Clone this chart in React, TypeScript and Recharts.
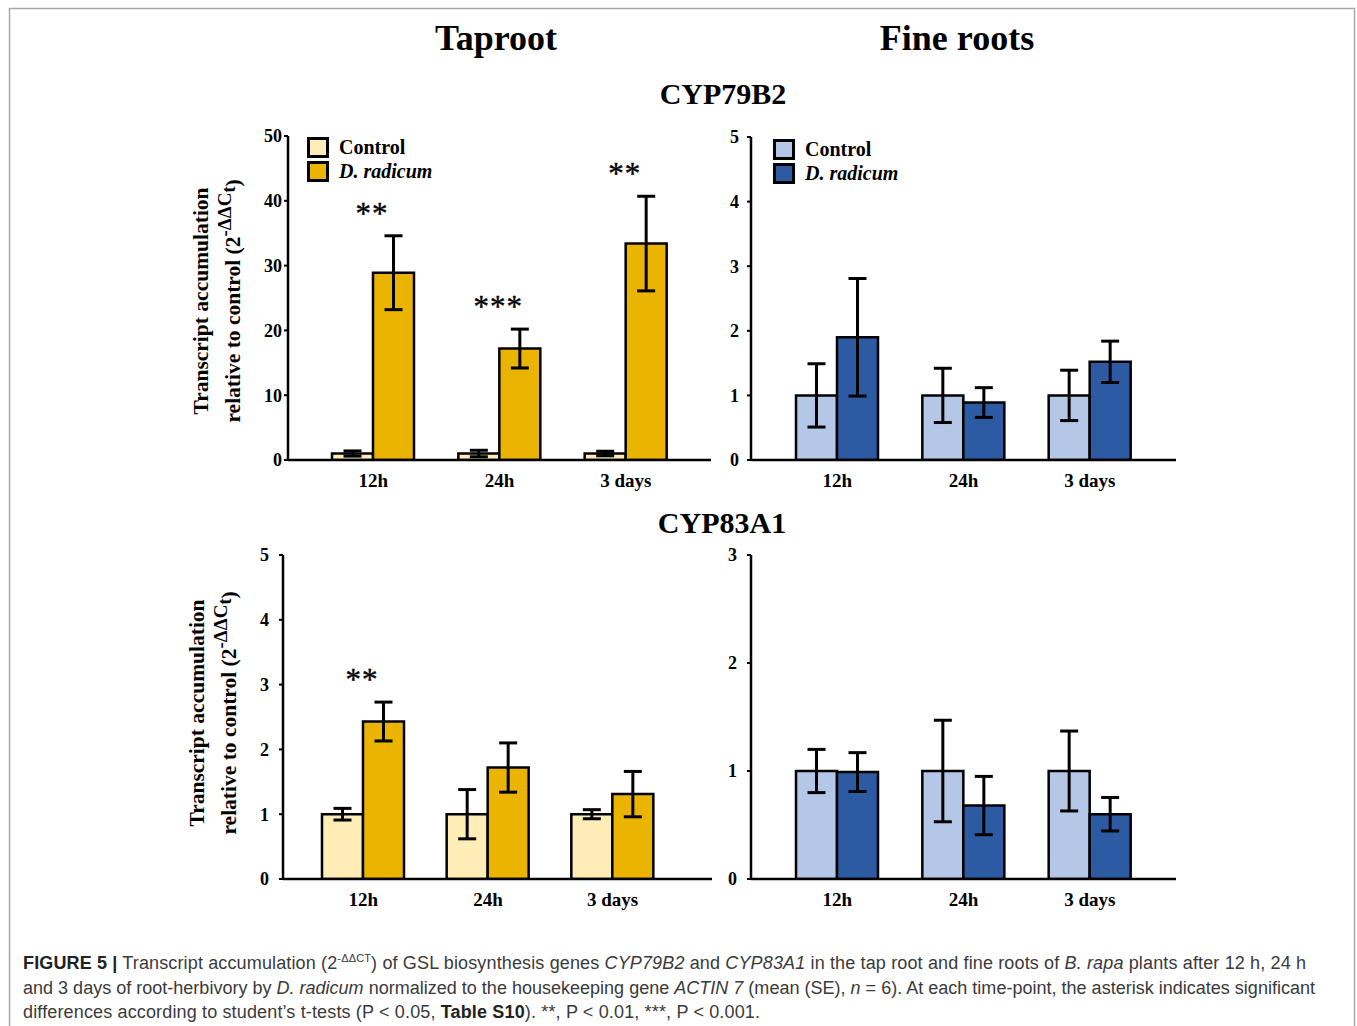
import { BarChart, Bar, XAxis, YAxis, ErrorBar, LabelList, Legend } from "recharts";

const SERIF = '"Liberation Serif", "Times New Roman", serif';
const SANS = '"Liberation Sans", Arial, sans-serif';

// categories
const timePoints = ["12h", "24h", "3 days"];

// CYP79B2 - taproot
const tap79Ctrl = [1, 1, 1];
const tap79CtrlErr = [0.4, 0.5, 0.35];
const tap79Rad = [28.9, 17.2, 33.4];
const tap79RadErr = [5.7, 3.0, 7.3];
const tap79Sig = ["**", "***", "**"];

// CYP79B2 - fine roots
const fine79Ctrl = [1, 1, 1];
const fine79CtrlErr = [0.49, 0.42, 0.39];
const fine79Rad = [1.9, 0.89, 1.52];
const fine79RadErr = [0.91, 0.23, 0.32];

// CYP83A1 - taproot
const tap83Ctrl = [1, 1, 1];
const tap83CtrlErr = [0.09, 0.38, 0.07];
const tap83Rad = [2.43, 1.72, 1.31];
const tap83RadErr = [0.3, 0.38, 0.35];
const tap83Sig = ["**", "", ""];

// CYP83A1 - fine roots
const fine83Ctrl = [1, 1, 1];
const fine83CtrlErr = [0.2, 0.47, 0.37];
const fine83Rad = [0.99, 0.68, 0.6];
const fine83RadErr = [0.18, 0.27, 0.155];

const ticks50 = [0, 10, 20, 30, 40, 50];
const ticks5 = [0, 1, 2, 3, 4, 5];
const ticks3 = [0, 1, 2, 3];

const TAP_CTRL = "#FFEDB7";
const TAP_RAD = "#EBB400";
const FINE_CTRL = "#B4C7E7";
const FINE_RAD = "#2D5BA3";

const buildRows = (ctrl: number[], ctrlErr: number[], rad: number[], radErr: number[], sig?: string[]) =>
  timePoints.map((time, i) => ({
    time,
    ctrl: ctrl[i],
    ctrlErr: ctrlErr[i],
    rad: rad[i],
    radErr: radErr[i],
    sig: sig ? sig[i] : "",
  }));

const LegendBox = ({ payload }: any) => (
  <div style={{ fontFamily: SERIF, fontWeight: 700, fontSize: 20, color: "#000" }}>
    {(payload || []).map((e: any) => (
      <div key={e.value} style={{ display: "flex", alignItems: "center", height: 24.5 }}>
        <span
          style={{
            display: "inline-block",
            width: 16,
            height: 15,
            border: "3px solid #000",
            background: e.color,
            marginRight: 10,
          }}
        />
        <span style={{ fontStyle: e.value === "Control" ? "normal" : "italic" }}>{e.value}</span>
      </div>
    ))}
  </div>
);

const sigLabel = (vals: number[], errs: number[]) => (props: any) => {
  const vb = props.viewBox || props;
  const { x, y, height } = vb;
  const idx = props.index;
  const text = props.value;
  if (!text || idx == null) return null;
  const perUnit = height / vals[idx];
  const errTop = y - errs[idx] * perUnit;
  return (
    <text
      x={x - 1}
      y={errTop - 12}
      textAnchor="middle"
      fontFamily={SERIF}
      fontSize={31}
      letterSpacing={1}
      stroke="#000"
      strokeWidth={0.4}
      fill="#000"
    >
      {text}
    </text>
  );
};

interface PanelProps {
  rows: any[];
  left: number;
  top: number;
  plotW: number;
  plotH: number;
  max: number;
  ticks: number[];
  ctrlFill: string;
  radFill: string;
  padL: number;
  padR: number;
  tickGap: number;
  legendAt?: { x: number; y: number };
  rad: number[];
  radErr: number[];
}

function Panel(p: PanelProps) {
  const ML = 60, MT = 20, MR = 10, XH = 40, MB = 5;
  return (
    <div style={{ position: "absolute", left: p.left - ML, top: p.top - MT }}>
      <BarChart
        width={ML + p.plotW + MR}
        height={MT + p.plotH + XH + MB}
        data={p.rows}
        margin={{ top: MT, right: MR, left: 0, bottom: MB }}
        barGap={0}
        barSize={41}
      >
        <XAxis
          dataKey="time"
          height={XH}
          axisLine={{ stroke: "#000", strokeWidth: 2.5 }}
          tickLine={false}
          tickMargin={8}
          padding={{ left: p.padL, right: p.padR }}
          tick={{ fontFamily: SERIF, fontWeight: 700, fontSize: 19, fill: "#000" }}
        />
        <YAxis
          width={ML}
          domain={[0, p.max]}
          ticks={p.ticks}
          interval={0}
          allowDataOverflow
          axisLine={{ stroke: "#000", strokeWidth: 2.5 }}
          tickLine={{ stroke: "#000", strokeWidth: 2 }}
          tickSize={4}
          tickMargin={p.tickGap}
          tick={{ fontFamily: SERIF, fontWeight: 700, fontSize: 18, fill: "#000" }}
        />
        {p.legendAt && (
          <Legend
            layout="vertical"
            align="center"
            verticalAlign="middle"
            content={LegendBox}
            wrapperStyle={{ left: p.legendAt.x - (p.left - ML), top: p.legendAt.y - (p.top - MT), width: "auto" }}
          />
        )}
        <Bar dataKey="ctrl" name="Control" fill={p.ctrlFill} stroke="#000" strokeWidth={2.5} isAnimationActive={false}>
          <ErrorBar dataKey="ctrlErr" width={9} stroke="#000" strokeWidth={3} />
        </Bar>
        <Bar dataKey="rad" name="D. radicum" fill={p.radFill} stroke="#000" strokeWidth={2.5} isAnimationActive={false}>
          <ErrorBar dataKey="radErr" width={9} stroke="#000" strokeWidth={3} />
          <LabelList dataKey="sig" content={sigLabel(p.rad, p.radErr)} />
        </Bar>
      </BarChart>
    </div>
  );
}

function YLabel({ x, y }: { x: number; y: number }) {
  const x2 = x + 32;
  return (
    <g fontFamily={SERIF} fontWeight={700} fontSize={21.5} fill="#000">
      <text x={x} y={y} transform={`rotate(-90 ${x} ${y})`} textAnchor="middle">
        Transcript accumulation
      </text>
      <text x={x2} y={y} transform={`rotate(-90 ${x2} ${y})`} textAnchor="middle">
        relative to control (2
        <tspan dy={-9} fontSize={19}>-ΔΔC</tspan>
        <tspan dy={4} fontSize={18}>t</tspan>
        <tspan dy={5}>)</tspan>
      </text>
    </g>
  );
}

export default function App() {
  const tap79 = buildRows(tap79Ctrl, tap79CtrlErr, tap79Rad, tap79RadErr, tap79Sig);
  const fine79 = buildRows(fine79Ctrl, fine79CtrlErr, fine79Rad, fine79RadErr);
  const tap83 = buildRows(tap83Ctrl, tap83CtrlErr, tap83Rad, tap83RadErr, tap83Sig);
  const fine83 = buildRows(fine83Ctrl, fine83CtrlErr, fine83Rad, fine83RadErr);

  return (
    <div style={{ position: "absolute", left: 0, top: 0, width: 1357, height: 1026, background: "#fff", overflow: "hidden" }}>
      <svg width={1357} height={1026} style={{ position: "absolute", left: 0, top: 0 }}>
        <path d="M9.5 1030 V8.5 H1354.5 V1030" fill="none" stroke="#a8a8a8" strokeWidth={1.5} />
        <g fontFamily={SERIF} fontWeight={700} fill="#000" textAnchor="middle">
          <text x={496} y={50} fontSize={36}>Taproot</text>
          <text x={957} y={50} fontSize={36}>Fine roots</text>
          <text x={723} y={104} fontSize={30}>CYP79B2</text>
          <text x={722} y={533} fontSize={30}>CYP83A1</text>
        </g>
        <YLabel x={208} y={301} />
        <YLabel x={204} y={713} />
        <g fontFamily={SANS} fontSize={18} fill="#3a3a3a">
          <text x={23} y={969} textLength={1283} lengthAdjust="spacing">
            <tspan fontWeight={700} fill="#222">FIGURE 5 |</tspan> Transcript accumulation (2
            <tspan dy={-7} fontSize={11}>-ΔΔCT</tspan>
            <tspan dy={7}>) of GSL biosynthesis genes </tspan>
            <tspan fontStyle="italic">CYP79B2</tspan> and <tspan fontStyle="italic">CYP83A1</tspan> in the tap root and
            fine roots of <tspan fontStyle="italic">B. rapa</tspan> plants after 12 h, 24 h
          </text>
          <text x={23} y={994} textLength={1292} lengthAdjust="spacing">
            and 3 days of root-herbivory by <tspan fontStyle="italic">D. radicum</tspan> normalized to the housekeeping gene{" "}
            <tspan fontStyle="italic">ACTIN 7</tspan> (mean (SE), <tspan fontStyle="italic">n</tspan> = 6). At each
            time-point, the asterisk indicates significant
          </text>
          <text x={23} y={1018} textLength={737} lengthAdjust="spacing">
            differences according to student’s t-tests (P &lt; 0.05, <tspan fontWeight={700} fill="#222">Table S10</tspan>).
            **, P &lt; 0.01, ***, P &lt; 0.001.
          </text>
        </g>
      </svg>

      <Panel
        rows={tap79}
        left={288}
        top={136}
        plotW={423}
        plotH={324}
        max={50}
        ticks={ticks50}
        ctrlFill={TAP_CTRL}
        radFill={TAP_RAD}
        padL={22}
        padR={22}
        tickGap={2}
        legendAt={{ x: 307, y: 135 }}
        rad={tap79Rad}
        radErr={tap79RadErr}
      />
      <Panel
        rows={fine79}
        left={751}
        top={137}
        plotW={425}
        plotH={323}
        max={5}
        ticks={ticks5}
        ctrlFill={FINE_CTRL}
        radFill={FINE_RAD}
        padL={23}
        padR={23}
        tickGap={8}
        legendAt={{ x: 773, y: 137 }}
        rad={fine79Rad}
        radErr={fine79RadErr}
      />
      <Panel
        rows={tap83}
        left={283}
        top={555}
        plotW={429}
        plotH={324}
        max={5}
        ticks={ticks5}
        ctrlFill={TAP_CTRL}
        radFill={TAP_RAD}
        padL={18}
        padR={37}
        tickGap={10}
        rad={tap83Rad}
        radErr={tap83RadErr}
      />
      <Panel
        rows={fine83}
        left={751}
        top={555}
        plotW={425}
        plotH={324}
        max={3}
        ticks={ticks3}
        ctrlFill={FINE_CTRL}
        radFill={FINE_RAD}
        padL={23}
        padR={23}
        tickGap={10}
        rad={fine83Rad}
        radErr={fine83RadErr}
      />
    </div>
  );
}
